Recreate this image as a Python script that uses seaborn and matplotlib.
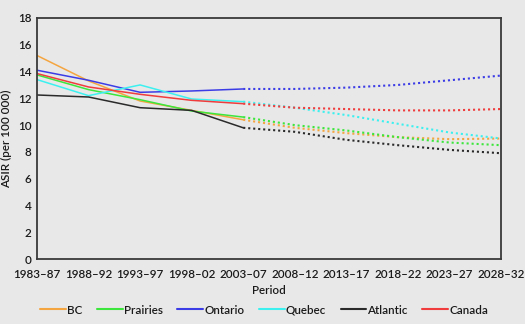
import matplotlib
matplotlib.use("Agg")
import matplotlib.pyplot as plt
import seaborn as sns
import pandas as pd
from matplotlib.lines import Line2D

periods = ["1983–87", "1988–92", "1993–97", "1998–02", "2003–07",
           "2008–12", "2013–17", "2018–22", "2023–27", "2028–32"]

# observed 1983-87 .. 2003-07
bc_obs = [15.2, 13.3, 11.8, 11.1, 10.4]
prairies_obs = [13.75, 12.65, 11.9, 11.05, 10.6]
ontario_obs = [14.1, 13.35, 12.45, 12.55, 12.7]
quebec_obs = [13.4, 12.2, 13.0, 11.95, 11.75]
atlantic_obs = [12.25, 12.1, 11.3, 11.1, 9.8]
canada_obs = [13.85, 12.85, 12.3, 11.85, 11.6]

# projected 2008-12 .. 2028-32
bc_proj = [9.8, 9.4, 9.1, 8.95, 9.0]
prairies_proj = [10.0, 9.6, 9.1, 8.7, 8.5]
ontario_proj = [12.7, 12.8, 13.0, 13.35, 13.7]
quebec_proj = [11.3, 10.75, 10.1, 9.45, 9.0]
atlantic_proj = [9.5, 8.9, 8.5, 8.15, 7.9]
canada_proj = [11.3, 11.2, 11.1, 11.1, 11.2]

regions = ["BC", "Prairies", "Ontario", "Quebec", "Atlantic", "Canada"]
observed = [bc_obs, prairies_obs, ontario_obs, quebec_obs, atlantic_obs, canada_obs]
projected = [bc_proj, prairies_proj, ontario_proj, quebec_proj, atlantic_proj, canada_proj]
colors = ["#f5a540", "#3ce63c", "#3c3ce6", "#3cf0f0", "#2a2a2a", "#f03c3c"]

sns.set_theme(style="white")
plt.rcParams['font.family'] = ['Lato', 'DejaVu Sans']
bg = "#e8e8e8"
fig = plt.figure(figsize=(5.25, 3.24), dpi=100, facecolor=bg)
ax = fig.add_axes([37/525, 1-259/324, (501-37)/525, (259-18)/324])
ax.set_facecolor(bg)

n_obs = len(bc_obs)
for name, obs, proj, c in zip(regions, observed, projected, colors):
    d1 = pd.DataFrame({"x": list(range(n_obs)), "y": obs})
    sns.lineplot(data=d1, x="x", y="y", color=c, lw=1.1, ax=ax)
    d2 = pd.DataFrame({"x": list(range(n_obs - 1, n_obs + len(proj))),
                       "y": [obs[-1]] + proj})
    sns.lineplot(data=d2, x="x", y="y", color=c, lw=1.5, ax=ax, linestyle=(0, (1, 1.4)))

ax.set_xlim(0, len(periods) - 1)
ax.set_ylim(0, 18)
ax.set_xticks(range(len(periods)))
ax.set_xticklabels(periods)
ax.set_yticks(range(0, 19, 2))
tc = "#1a1a1a"
fs = 8.4
ax.tick_params(axis='x', direction='in', length=3, width=1, colors=tc, labelsize=fs, pad=7)
ax.tick_params(axis='y', direction='out', length=3, width=1, colors=tc, labelsize=fs, pad=1)
for lab in ax.get_xticklabels() + ax.get_yticklabels():
    lab.set_fontweight("semibold")
for s in ax.spines.values():
    s.set_color("#3a3a3a")
    s.set_linewidth(1.3)
    s.set_visible(True)
ax.set_xlabel("Period", fontsize=fs, color=tc, labelpad=4, fontweight="semibold")
ax.set_ylabel("ASIR (per 100 000)", fontsize=fs, color=tc, labelpad=4, fontweight="semibold")

handles = [Line2D([0], [0], color=c, lw=1.5) for c in colors]
fig.legend(handles, regions, loc="center", bbox_to_anchor=(0.503, 1 - 310/324),
           ncol=6, frameon=False, handlelength=2.2, handletextpad=0.1,
           columnspacing=1.25, labelcolor=tc,
           prop={"size": fs, "weight": "semibold"})

fig.savefig("out.png", dpi=100, facecolor=bg)
